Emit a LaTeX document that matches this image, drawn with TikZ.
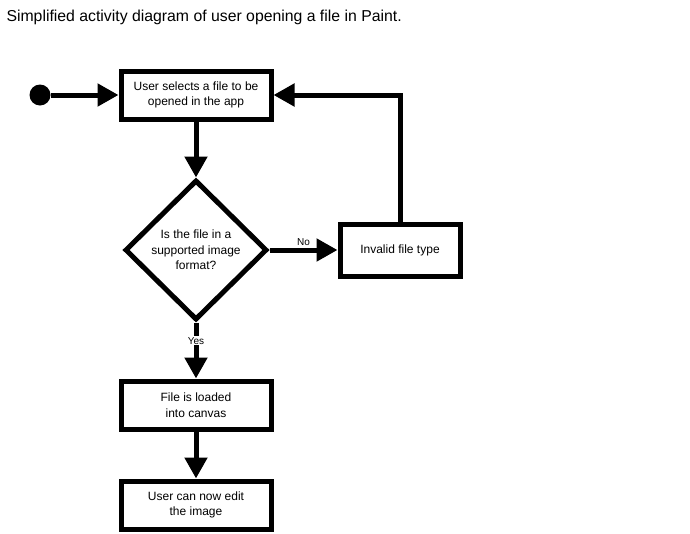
\documentclass[tikz,border=0pt]{standalone}
\usepackage{fontspec}
\setmainfont{Liberation Sans}
\usetikzlibrary{arrows.meta,shapes.geometric}
\begin{document}
\begin{tikzpicture}[x=1pt,y=-1pt,
  box/.style={draw,line width=5pt,minimum width=150pt,minimum height=48pt,inner sep=0pt,align=center,font=\fontsize{12}{15.5}\selectfont,fill=white},
  dec/.style={draw,diamond,line width=5pt,minimum width=142pt,minimum height=140pt,inner sep=0pt,align=center,font=\fontsize{12}{15.5}\selectfont,aspect=1},
  conn/.style={line width=5pt,-{Triangle[length=21pt,width=22pt]}},
  lbl/.style={font=\fontsize{10}{12}\selectfont,fill=white,inner sep=1pt}]
\useasboundingbox (0,0) rectangle (690,533);
\node[anchor=base west,font=\fontsize{15.8}{18}\selectfont] (title) at (3,21) {Simplified activity diagram of user opening a file in Paint.};
\node[circle,fill=black,minimum size=21pt,inner sep=0pt] (start) at (40,95) {};
\node[box] (b1) at (196,95) {User selects a file to be\\opened in the app};
\node[dec] (d) at (196,250) {Is the file in a\\supported image\\format?};
\node[box,minimum width=120pt,minimum height=52pt] (b2) at (400,250) {Invalid file type};
\node[box] (b3) at (196,405) {File is loaded\\into canvas};
\node[box] (b4) at (196,505) {User can now edit\\the image};
\draw[conn] (start) -- (b1.west);
\draw[conn] (b1.south) -- (d.north);
\draw[conn] (d.east) -- node[lbl,above,fill=none,pos=0.5,yshift=1pt]{No} (b2.west);
\draw[conn] (b2.north) |- (b1.east);
\draw[conn] (d.south) -- node[lbl,pos=0.33]{Yes} (b3.north);
\draw[conn] (b3.south) -- (b4.north);
\end{tikzpicture}
\end{document}
